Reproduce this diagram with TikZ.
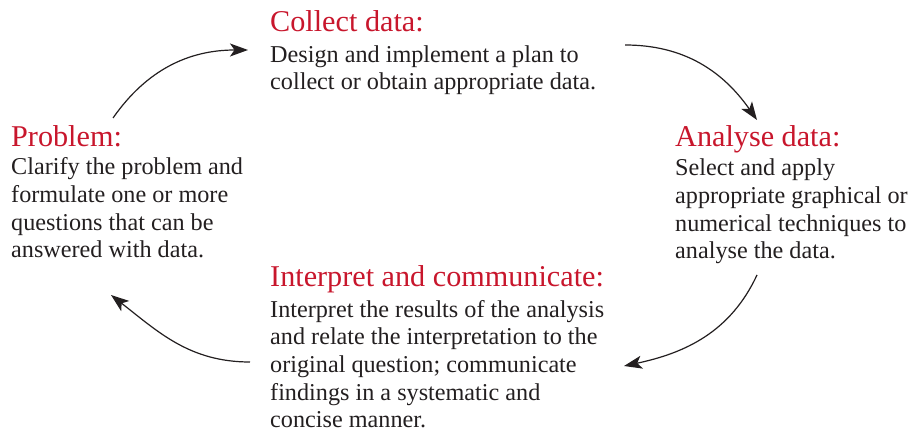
\documentclass[tikz,border=0pt]{standalone}
\usepackage{fontspec}
\setmainfont{Liberation Serif}
\usepackage{tikz}
\usetikzlibrary{arrows.meta}

\definecolor{headred}{RGB}{200,22,44}
\definecolor{inkgrey}{RGB}{35,31,32}

\begin{document}
\begin{tikzpicture}[x=1pt,y=1pt,
    head/.style={anchor=base west, inner sep=0pt, text=headred,
        font=\fontsize{30.2}{34}\selectfont},
    % base of a multi-line node is its last line
    body/.style={anchor=base west, inner sep=0pt, align=left, text=inkgrey,
        font=\fontsize{24.2}{27.7}\selectfont},
    cycle/.style={-{Stealth[length=18pt,width=13pt,inset=4.5pt]}, line width=1.2pt, inkgrey}]
\useasboundingbox (0,0) rectangle (915,433);

% the four stages
\node[head] (prob) at (11,286) {Problem:};
\node[body] (probtxt) at (11,175) {Clarify the problem and\\formulate one or more\\questions that can be\\answered with data.};

\node[head] (collect) at (270,401) {Collect data:};
\node[body] (collecttxt) at (270,343) {Design and implement a plan to\\collect or obtain appropriate data.};

\node[head] (analyse) at (675,286) {Analyse data:};
\node[body] (analysetxt) at (675,174) {Select and apply\\appropriate graphical or\\numerical techniques to\\analyse the data.};

\node[head] (interp) at (270,146) {Interpret and communicate:};
\node[body] (interptxt) at (270,5) {Interpret the results of the analysis\\and relate the interpretation to the\\original question; communicate\\findings in a systematic and\\concise manner.};

% ends of the arrows
\coordinate (prob-out) at (113,315);
\coordinate (collect-in) at (248,383);
\coordinate (collect-out) at (625,388);
\coordinate (analyse-in) at (757,313);
\coordinate (analyse-out) at (757,158);
\coordinate (interp-in) at (624,67);
\coordinate (interp-out) at (250,71);
\coordinate (prob-in) at (111,138);

\draw[cycle] (prob-out) to[out=55,in=180] (collect-in);
\draw[cycle] (collect-out) to[out=0,in=125] (analyse-in);
\draw[cycle] (analyse-out) to[out=-115,in=12] (interp-in);
\draw[cycle] (interp-out) to[out=180,in=-38] (prob-in);
\end{tikzpicture}
\end{document}
